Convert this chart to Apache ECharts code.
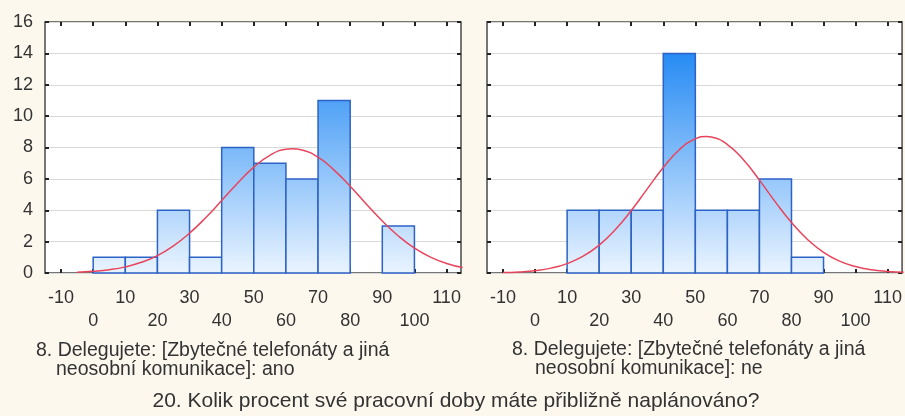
<!DOCTYPE html>
<html>
<head>
<meta charset="utf-8">
<script src="https://cdn.jsdelivr.net/npm/echarts@6.0.0/dist/echarts.min.js"></script>
<style>
  html, body { margin: 0; padding: 0; background: #fcf8ee; }
  #chart { width: 905px; height: 416px; }
</style>
</head>
<body>
<div id="chart"></div>
<script>
// ---- data ----
const binStarts = [0, 10, 20, 30, 40, 50, 60, 70, 80, 90];
const binWidth = 10;
const leftCounts  = [1, 1, 4, 1, 8, 7, 6, 11, 0, 3];
const rightCounts = [0, 4, 4, 4, 14, 4, 4, 6, 1, 0];

const leftCurveX = [-5, 0, 5, 10, 15, 20, 25, 30, 35, 40, 45, 50, 55, 60, 62, 65, 70, 75, 80, 85, 90, 95, 100, 105, 110, 115];
const leftCurveY = [0.05, 0.11, 0.21, 0.39, 0.68, 1.11, 1.73, 2.54, 3.52, 4.62, 5.74, 6.75, 7.50, 7.89, 7.92, 7.84, 7.38, 6.56, 5.53, 4.40, 3.31, 2.36, 1.59, 1.01, 0.61, 0.35];
const rightCurveX = [-10, -5, 0, 5, 10, 15, 20, 25, 30, 35, 40, 45, 50, 53.5, 55, 60, 65, 70, 75, 80, 85, 90, 95, 100, 105, 110, 115];
const rightCurveY = [0.03, 0.07, 0.15, 0.31, 0.60, 1.07, 1.78, 2.76, 3.98, 5.36, 6.72, 7.86, 8.55, 8.70, 8.67, 8.19, 7.22, 5.92, 4.52, 3.22, 2.14, 1.32, 0.76, 0.41, 0.20, 0.10, 0.04];

const xTicks = [-10, 0, 10, 20, 30, 40, 50, 60, 70, 80, 90, 100, 110];
const yTicks = [0, 2, 4, 6, 8, 10, 12, 14, 16];

const leftTitle  = ['8. Delegujete: [Zbytečné telefonáty a jiná', 'neosobní komunikace]: ano'];
const rightTitle = ['8. Delegujete: [Zbytečné telefonáty a jiná', 'neosobní komunikace]: ne'];
const bottomTitle = '20. Kolik procent své pracovní doby máte přibližně naplánováno?';

// ---- chart ----
const chart = echarts.init(document.getElementById('chart'));
const FONT = '"Liberation Sans", Arial, sans-serif';
const TXT = '#333333';
const xMin = -15, xMax = 114.5, yMin = 0, yMax = 16;

function histData(counts) {
  return binStarts.map((b, i) => [b, b + binWidth, counts[i]]);
}
function curveData(xs, ys) {
  return xs.map((x, i) => [x, ys[i]]);
}
function renderBar(params, api) {
  const v = api.value(2);
  if (!v) return null;
  const p0 = api.coord([api.value(0), v]);
  const p1 = api.coord([api.value(1), 0]);
  const top = api.coord([api.value(0), yMax])[1];
  return {
    type: 'rect',
    shape: { x: p0[0], y: p0[1], width: p1[0] - p0[0], height: p1[1] - p0[1] },
    style: {
      fill: new echarts.graphic.LinearGradient(0, top, 0, p1[1], [
        { offset: 0, color: '#0a7cf2' },
        { offset: 1, color: '#eaf4ff' }
      ], true),
      stroke: '#2d62c6',
      lineWidth: 1.5
    }
  };
}

const tickStyle = { show: true, inside: true, length: 4, lineStyle: { color: '#222', width: 2 } };
const noLine = { show: false, onZero: false };

function bottomX(g) {
  return {
    gridIndex: g, type: 'value', position: 'bottom', min: xMin, max: xMax, z: 5,
    axisLine: noLine,
    axisTick: Object.assign({ customValues: xTicks }, tickStyle),
    axisLabel: {
      show: true, customValues: xTicks, fontSize: 18, fontFamily: FONT, color: TXT,
      lineHeight: 23, margin: 14,
      formatter: v => (Math.round(v / 10) % 2 === 0) ? '\n' + v : String(v)
    },
    splitLine: { show: false }
  };
}
function topX(g) {
  return {
    gridIndex: g, type: 'value', position: 'top', min: xMin, max: xMax, z: 5,
    axisLine: noLine,
    axisTick: Object.assign({ customValues: xTicks }, tickStyle),
    axisLabel: { show: false, customValues: xTicks },
    splitLine: { show: false }
  };
}
function leftY(g, labels) {
  return {
    gridIndex: g, type: 'value', position: 'left', min: yMin, max: yMax, interval: 2, z: 5,
    axisLine: noLine,
    axisTick: tickStyle,
    axisLabel: { show: labels, fontSize: 18, fontFamily: FONT, color: TXT, margin: 12 },
    splitLine: { show: true, lineStyle: { color: '#d9d9d9', width: 1 } }
  };
}
function rightY(g) {
  return {
    gridIndex: g, type: 'value', position: 'right', min: yMin, max: yMax, interval: 2, z: 5,
    axisLine: noLine,
    axisTick: tickStyle,
    axisLabel: { show: false },
    splitLine: { show: false }
  };
}

const gridBase = { top: 22, height: 251, width: 416, show: true, backgroundColor: '#ffffff', borderColor: '#4a4a4a', borderWidth: 1.5 };

function textEl(str, x, y, align, size) {
  return {
    type: 'text', silent: true,
    style: { text: str, x: x, y: y, align: align, verticalAlign: 'middle', fontSize: size, fontFamily: FONT, fill: TXT }
  };
}

chart.setOption({
  animation: false,
  backgroundColor: '#fcf8ee',
  grid: [
    Object.assign({ left: 45 }, gridBase),
    Object.assign({ left: 487 }, gridBase)
  ],
  xAxis: [bottomX(0), bottomX(1), topX(0), topX(1)],
  yAxis: [leftY(0, true), leftY(1, false), rightY(0), rightY(1)],
  series: [
    { type: 'custom', xAxisIndex: 0, yAxisIndex: 0, renderItem: renderBar, data: histData(leftCounts), z: 10 },
    { type: 'line', xAxisIndex: 0, yAxisIndex: 0, data: curveData(leftCurveX, leftCurveY), smooth: true, showSymbol: false, symbol: 'none', clip: true,
      lineStyle: { color: '#e8455c', width: 1.5 }, z: 11 },
    { type: 'custom', xAxisIndex: 1, yAxisIndex: 1, renderItem: renderBar, data: histData(rightCounts), z: 10 },
    { type: 'line', xAxisIndex: 1, yAxisIndex: 1, data: curveData(rightCurveX, rightCurveY), smooth: true, showSymbol: false, symbol: 'none', clip: true,
      lineStyle: { color: '#e8455c', width: 1.5 }, z: 11 }
  ],
  graphic: [
    textEl(leftTitle[0], 36, 351, 'left', 19.5),
    textEl(leftTitle[1], 56, 370, 'left', 19.5),
    textEl(rightTitle[0], 512, 350, 'left', 19.5),
    textEl(rightTitle[1], 535, 369, 'left', 19.5),
    textEl(bottomTitle, 456, 401, 'center', 21)
  ]
});
</script>
</body>
</html>
